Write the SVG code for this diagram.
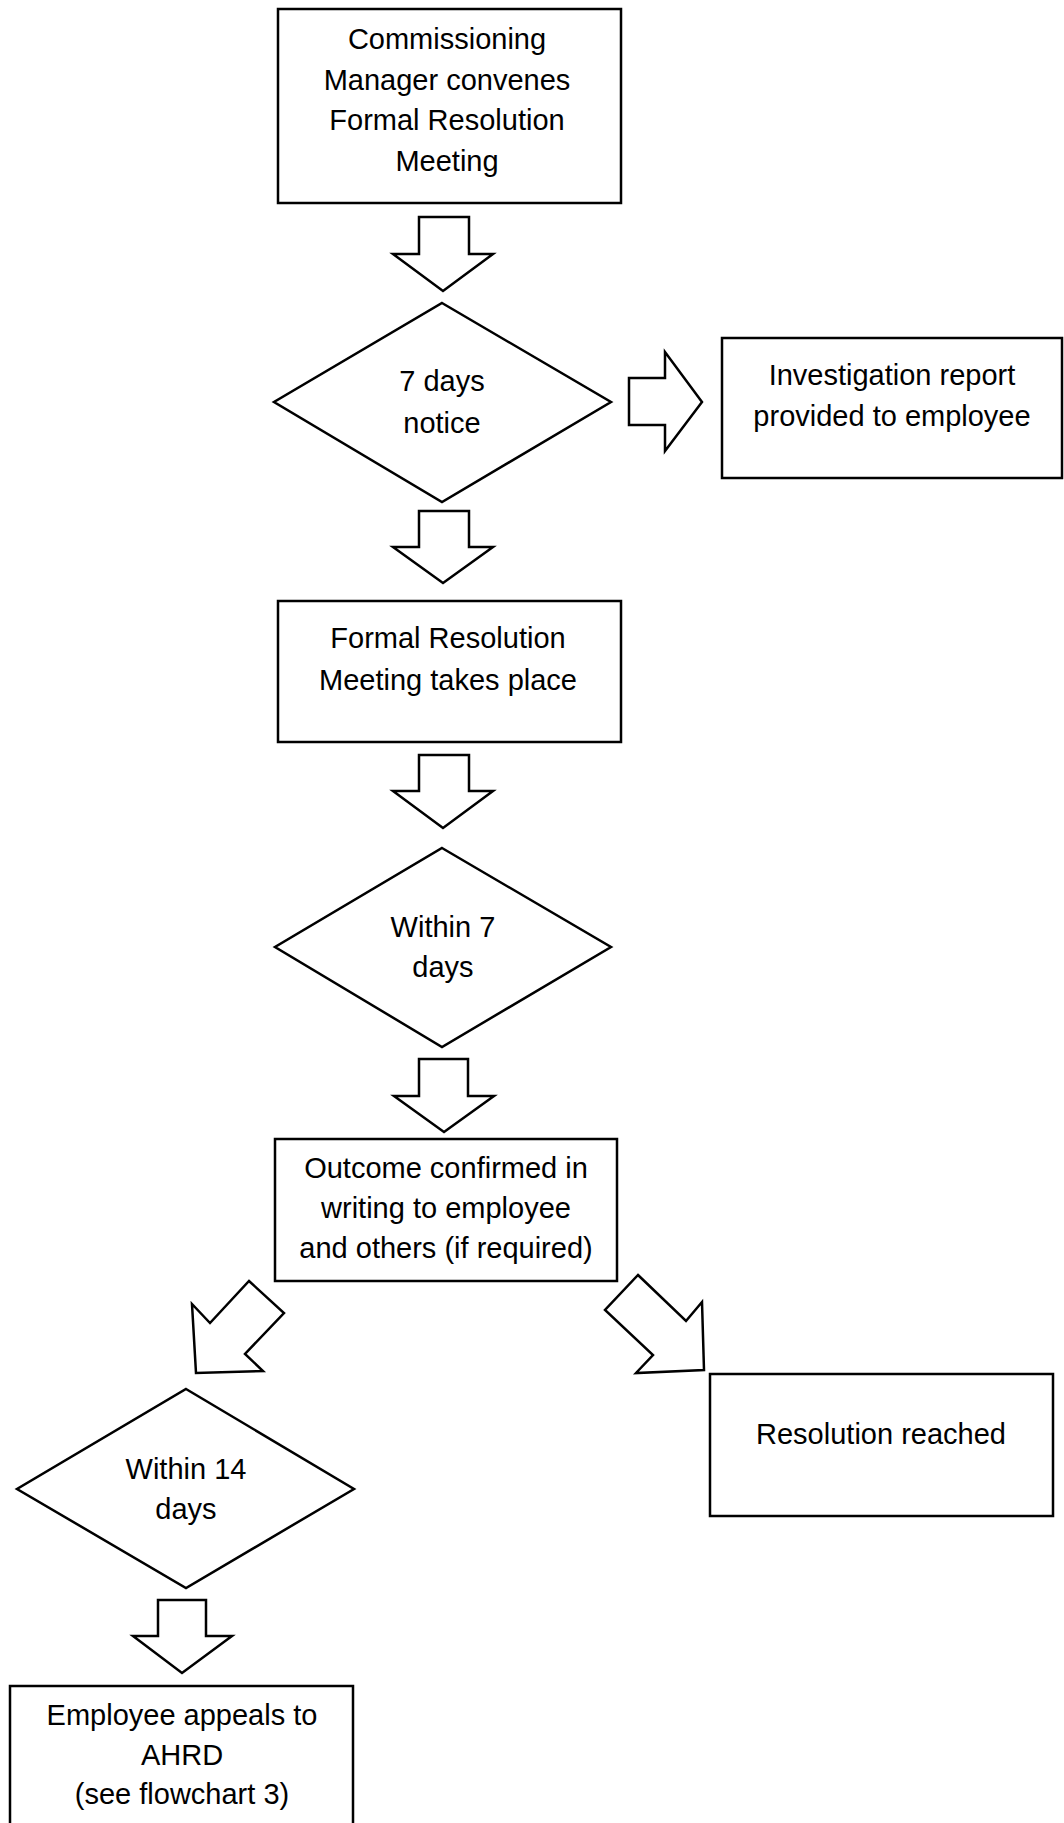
<svg xmlns="http://www.w3.org/2000/svg" width="1064" height="1823" viewBox="0 0 1064 1823">
<style>
.n{fill:#fff;stroke:#000;stroke-width:2.5}
.a{fill:#fff;stroke:#000;stroke-width:2.5;stroke-linejoin:miter}
.t{font-family:"Liberation Sans",Arial,sans-serif;font-size:29px;fill:#000;text-anchor:middle}
</style>
<rect width="1064" height="1823" fill="#fff"/>
<g id="connectors">
<polygon class="a" points="419,217 469,217 469,254 493,254 443,291 393,254 419,254"/>
<polygon class="a" points="629,378 665,378 665,352 702,402 665,451 665,425 629,425"/>
<polygon class="a" points="419,511 469,511 469,547 493,547 443,583 393,547 419,547"/>
<polygon class="a" points="419,755 469,755 469,791 493,791 443,828 393,791 419,791"/>
<polygon class="a" points="419,1059 468,1059 468,1096 494,1096 444,1132 394,1096 419,1096"/>
<polygon class="a" points="249,1281 284,1313 245,1354 263,1371 196,1373 192,1304 210,1323"/>
<polygon class="a" points="638,1275 686,1321 702,1302 704,1370 636,1373 653,1355 605,1310"/>
<polygon class="a" points="158,1600 206,1600 206,1636 232,1636 182,1673 133,1636 158,1636"/>
</g>
<g id="n1">
<rect class="n" x="278" y="9" width="343" height="194"/>
<text class="t" x="447" y="49">Commissioning</text>
<text class="t" x="447" y="89.5">Manager convenes</text>
<text class="t" x="447" y="130">Formal Resolution</text>
<text class="t" x="447" y="170.5">Meeting</text>
</g>
<g id="n2">
<polygon class="n" points="442,303 611,402 442,502 274,402"/>
<text class="t" x="442" y="391">7 days</text>
<text class="t" x="442" y="433">notice</text>
</g>
<g id="n3">
<rect class="n" x="722" y="338" width="340" height="140"/>
<text class="t" x="892" y="385">Investigation report</text>
<text class="t" x="892" y="426">provided to employee</text>
</g>
<g id="n4">
<rect class="n" x="278" y="601" width="343" height="141"/>
<text class="t" x="448" y="648">Formal Resolution</text>
<text class="t" x="448" y="690">Meeting takes place</text>
</g>
<g id="n5">
<polygon class="n" points="442,848 611,947 442,1047 275,947"/>
<text class="t" x="443" y="937">Within 7</text>
<text class="t" x="443" y="977">days</text>
</g>
<g id="n6">
<rect class="n" x="275" y="1139" width="342" height="142"/>
<text class="t" x="446" y="1178">Outcome confirmed in</text>
<text class="t" x="446" y="1218">writing to employee</text>
<text class="t" x="446" y="1258">and others (if required)</text>
</g>
<g id="n7">
<rect class="n" x="710" y="1374" width="343" height="142"/>
<text class="t" x="881" y="1444">Resolution reached</text>
</g>
<g id="n8">
<polygon class="n" points="186,1389 354,1489 186,1588 17,1489"/>
<text class="t" x="186" y="1479">Within 14</text>
<text class="t" x="186" y="1519">days</text>
</g>
<g id="n9">
<rect class="n" x="10" y="1686" width="343" height="150"/>
<text class="t" x="182" y="1725">Employee appeals to</text>
<text class="t" x="182" y="1765">AHRD</text>
<text class="t" x="182" y="1804">(see flowchart 3)</text>
</g>
</svg>
